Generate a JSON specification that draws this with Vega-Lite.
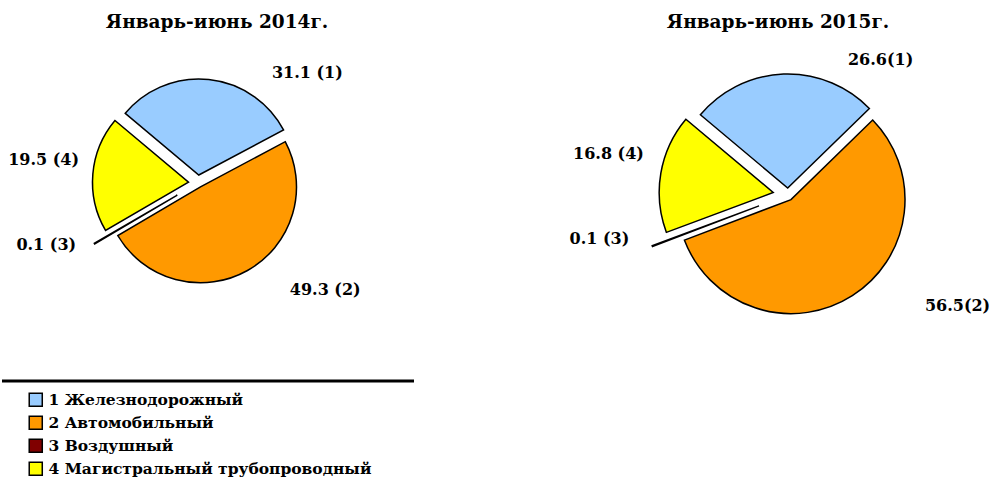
{
  "$schema": "https://vega.github.io/schema/vega-lite/v6.json",
  "padding": {"left": 0, "top": 12, "right": 0, "bottom": 0},
  "background": "white",
  "config": {
    "view": {"stroke": null},
    "font": "DejaVu Serif",
    "title": {"font": "DejaVu Serif", "fontSize": 18.5, "fontWeight": "bold", "color": "black", "offset": 6},
    "legend": {
      "title": null, "orient": "none", "legendX": 26, "legendY": 355,
      "symbolType": "square", "symbolSize": 170, "symbolStrokeColor": "black", "symbolStrokeWidth": 1.5,
      "symbolOpacity": 1,
      "labelFont": "DejaVu Serif", "labelFontSize": 15.5, "labelFontWeight": "bold", "labelColor": "black",
      "rowPadding": 3, "labelLimit": 0, "labelOffset": 5
    }
  },
  "datasets": {
    "shares": [
      {"year": "2014", "code": 1, "cat": "1 Железнодорожный", "value": 31.1, "label": "31.1 (1)"},
      {"year": "2014", "code": 2, "cat": "2 Автомобильный", "value": 49.3, "label": "49.3 (2)"},
      {"year": "2014", "code": 3, "cat": "3 Воздушный", "value": 0.1, "label": "0.1 (3)"},
      {"year": "2014", "code": 4, "cat": "4 Магистральный трубопроводный", "value": 19.5, "label": "19.5 (4)"},
      {"year": "2015", "code": 1, "cat": "1 Железнодорожный", "value": 26.6, "label": "26.6(1)"},
      {"year": "2015", "code": 2, "cat": "2 Автомобильный", "value": 56.5, "label": "56.5(2)"},
      {"year": "2015", "code": 3, "cat": "3 Воздушный", "value": 0.1, "label": "0.1 (3)"},
      {"year": "2015", "code": 4, "cat": "4 Магистральный трубопроводный", "value": 16.8, "label": "16.8 (4)"}
    ]
  },
  "resolve": {"scale": {"color": "shared"}, "legend": {"color": "shared"}},
  "spacing": 26,
  "vconcat": [
    {
      "spacing": 204,
      "bounds": "flush",
      "hconcat": [
        {
          "title": {"text": "Январь-июнь 2014г.", "dx": 19},
          "width": 392, "height": 292,
          "data": {"name": "shares"},
          "transform": [{"filter": "datum.year == '2014'"}],
          "encoding": {
            "theta": {"field": "value", "type": "quantitative", "stack": true, "scale": {"domain": [0, 100], "range": [-0.8727, 5.4105]}},
            "order": {"field": "code", "type": "quantitative"},
            "color": {"field": "cat", "type": "nominal", "scale": {"domain": ["1 Железнодорожный", "2 Автомобильный", "3 Воздушный", "4 Магистральный трубопроводный"], "range": ["#99ccff", "#ff9900", "#800000", "#ffff00"]}}
          },
          "layer": [
            {"mark": {"type": "arc", "radius": 96, "stroke": "black", "strokeWidth": 1.5, "xOffset": 0.8, "yOffset": -8},
             "encoding": {"opacity": {"condition": {"test": "datum.code == 1", "value": 1}, "value": 0}}},
            {"mark": {"type": "arc", "radius": 96, "stroke": "black", "strokeWidth": 1.5, "xOffset": 2.5, "yOffset": 3.8},
             "encoding": {"opacity": {"condition": {"test": "datum.code == 2", "value": 1}, "value": 0}}},
            {"mark": {"type": "arc", "radius": 96, "stroke": "black", "strokeWidth": 1.5, "xOffset": -20.7, "yOffset": 12.1},
             "encoding": {"opacity": {"condition": {"test": "datum.code == 3", "value": 1}, "value": 0}}},
            {"mark": {"type": "arc", "radius": 96, "stroke": "black", "strokeWidth": 1.5, "xOffset": -9.5, "yOffset": -0.8},
             "encoding": {"opacity": {"condition": {"test": "datum.code == 4", "value": 1}, "value": 0}}},
            {"mark": {"type": "text", "radius": 110, "align": "left", "baseline": "middle", "dx": 62.5, "dy": -0.6, "fontSize": 16, "fontWeight": "bold"},
             "encoding": {"text": {"condition": {"test": "datum.code == 1", "field": "label"}, "value": ""}, "color": {"value": "black"}}},
            {"mark": {"type": "text", "radius": 110, "align": "left", "baseline": "middle", "dx": 38, "dy": 11, "fontSize": 16, "fontWeight": "bold"},
             "encoding": {"text": {"condition": {"test": "datum.code == 2", "field": "label"}, "value": ""}, "color": {"value": "black"}}},
            {"mark": {"type": "text", "radius": 110, "align": "right", "baseline": "middle", "dx": -27, "dy": 6.4, "fontSize": 16, "fontWeight": "bold"},
             "encoding": {"text": {"condition": {"test": "datum.code == 3", "field": "label"}, "value": ""}, "color": {"value": "black"}}},
            {"mark": {"type": "text", "radius": 110, "align": "right", "baseline": "middle", "dx": -9.4, "dy": -13.6, "fontSize": 16, "fontWeight": "bold"},
             "encoding": {"text": {"condition": {"test": "datum.code == 4", "field": "label"}, "value": ""}, "color": {"value": "black"}}}
          ]
        },
        {
          "title": {"text": "Январь-июнь 2015г.", "dx": -10},
          "width": 380, "height": 316,
          "data": {"name": "shares"},
          "transform": [{"filter": "datum.year == '2015'"}],
          "encoding": {
            "theta": {"field": "value", "type": "quantitative", "stack": true, "scale": {"domain": [0, 100], "range": [-0.8727, 5.4105]}},
            "order": {"field": "code", "type": "quantitative"},
            "color": {"field": "cat", "type": "nominal"}
          },
          "layer": [
            {"mark": {"type": "arc", "radius": 114, "stroke": "black", "strokeWidth": 1.5, "xOffset": -0.3, "yOffset": -7},
             "encoding": {"opacity": {"condition": {"test": "datum.code == 1", "value": 1}, "value": 0}}},
            {"mark": {"type": "arc", "radius": 114, "stroke": "black", "strokeWidth": 1.5, "xOffset": 3, "yOffset": 4.6},
             "encoding": {"opacity": {"condition": {"test": "datum.code == 2", "value": 1}, "value": 0}}},
            {"mark": {"type": "arc", "radius": 114, "stroke": "black", "strokeWidth": 1.5, "xOffset": -29, "yOffset": 10.9},
             "encoding": {"opacity": {"condition": {"test": "datum.code == 3", "value": 1}, "value": 0}}},
            {"mark": {"type": "arc", "radius": 114, "stroke": "black", "strokeWidth": 1.5, "xOffset": -14.8, "yOffset": -2.5},
             "encoding": {"opacity": {"condition": {"test": "datum.code == 4", "value": 1}, "value": 0}}},
            {"mark": {"type": "text", "radius": 128, "align": "left", "baseline": "middle", "dx": 64.7, "dy": -7.1, "fontSize": 16, "fontWeight": "bold"},
             "encoding": {"text": {"condition": {"test": "datum.code == 1", "field": "label"}, "value": ""}, "color": {"value": "black"}}},
            {"mark": {"type": "text", "radius": 128, "align": "left", "baseline": "middle", "dx": 68.1, "dy": 3.1, "fontSize": 16, "fontWeight": "bold"},
             "encoding": {"text": {"condition": {"test": "datum.code == 2", "field": "label"}, "value": ""}, "color": {"value": "black"}}},
            {"mark": {"type": "text", "radius": 128, "align": "right", "baseline": "middle", "dx": -39, "dy": -1, "fontSize": 16, "fontWeight": "bold"},
             "encoding": {"text": {"condition": {"test": "datum.code == 3", "field": "label"}, "value": ""}, "color": {"value": "black"}}},
            {"mark": {"type": "text", "radius": 128, "align": "right", "baseline": "middle", "dx": -18, "dy": -19, "fontSize": 16, "fontWeight": "bold"},
             "encoding": {"text": {"condition": {"test": "datum.code == 4", "field": "label"}, "value": ""}, "color": {"value": "black"}}}
          ]
        }
      ]
    },
    {
      "width": 412, "height": 95,
      "data": {"values": [{}]},
      "mark": {"type": "rule", "strokeWidth": 3, "color": "black"},
      "encoding": {"y": {"datum": 1, "type": "quantitative", "scale": {"domain": [0, 1]}, "axis": null}}
    }
  ]
}
